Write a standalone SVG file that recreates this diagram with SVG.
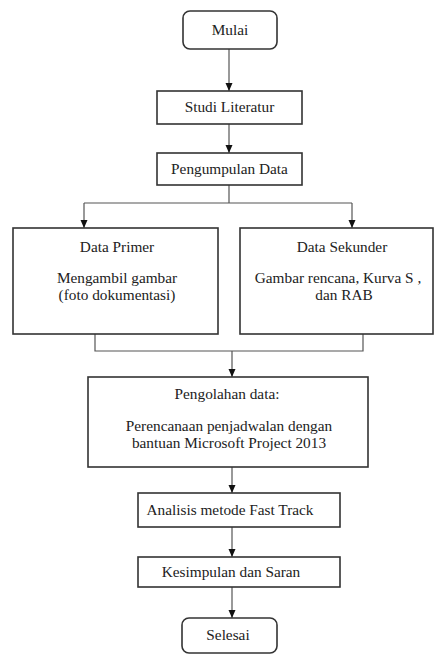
<svg xmlns="http://www.w3.org/2000/svg" width="435" height="655" viewBox="0 0 435 655">
<style>
.box{fill:#fff;stroke:#333;stroke-width:1.6}
.t{font-family:"Liberation Serif","Times New Roman",serif;font-size:15.3px;fill:#222;text-anchor:middle}
.c{fill:none;stroke:#555;stroke-width:1.2}
</style>
<defs>
<marker id="ah" viewBox="0 0 8 8" refX="8" refY="4" markerWidth="8" markerHeight="8" markerUnits="userSpaceOnUse" orient="auto">
<path d="M0,0.5 L8,4 L0,7.5 z" fill="#111"/>
</marker>
</defs>
<rect width="435" height="655" fill="#fff"/>
<g id="connectors">
<path class="c" d="M229,49 V91" marker-end="url(#ah)"/>
<path class="c" d="M229,124 V153" marker-end="url(#ah)"/>
<path class="c" d="M229,185 V203 M84,203 H352"/>
<path class="c" d="M84,203 V228" marker-end="url(#ah)"/>
<path class="c" d="M352,203 V228" marker-end="url(#ah)"/>
<path class="c" d="M95,334 V351 H363 V334"/>
<path class="c" d="M232,351 V377" marker-end="url(#ah)"/>
<path class="c" d="M232,467 V493" marker-end="url(#ah)"/>
<path class="c" d="M232,527 V557" marker-end="url(#ah)"/>
<path class="c" d="M232,587 V618" marker-end="url(#ah)"/>
</g>
<g id="mulai">
<rect class="box" x="183" y="11" width="94" height="38" rx="7"/>
<text class="t" x="230" y="35">Mulai</text>
</g>
<g id="studi">
<rect class="box" x="157" y="91" width="145" height="33"/>
<text class="t" x="229.5" y="112">Studi Literatur</text>
</g>
<g id="pengumpulan">
<rect class="box" x="157" y="153" width="145" height="32"/>
<text class="t" x="229.5" y="174">Pengumpulan Data</text>
</g>
<g id="primer">
<rect class="box" x="13" y="228" width="205" height="106"/>
<text class="t" x="117" y="252">Data Primer</text>
<text class="t" x="117" y="283">Mengambil gambar</text>
<text class="t" x="117" y="300">(foto dokumentasi)</text>
</g>
<g id="sekunder">
<rect class="box" x="240" y="228" width="193" height="106"/>
<text class="t" x="342" y="252">Data Sekunder</text>
<text class="t" x="338" y="283">Gambar rencana, Kurva S ,</text>
<text class="t" x="344" y="300">dan RAB</text>
</g>
<g id="pengolahan">
<rect class="box" x="88" y="377" width="280" height="90"/>
<text class="t" x="227" y="399">Pengolahan data:</text>
<text class="t" x="229" y="431">Perencanaan penjadwalan dengan</text>
<text class="t" x="229" y="448">bantuan Microsoft Project 2013</text>
</g>
<g id="analisis">
<rect class="box" x="138" y="493" width="202" height="34"/>
<text class="t" x="230" y="515">Analisis metode Fast Track</text>
</g>
<g id="kesimpulan">
<rect class="box" x="138" y="557" width="202" height="30"/>
<text class="t" x="231" y="577">Kesimpulan dan Saran</text>
</g>
<g id="selesai">
<rect class="box" x="182" y="618" width="95" height="35" rx="7"/>
<text class="t" x="228" y="640">Selesai</text>
</g>
</svg>
